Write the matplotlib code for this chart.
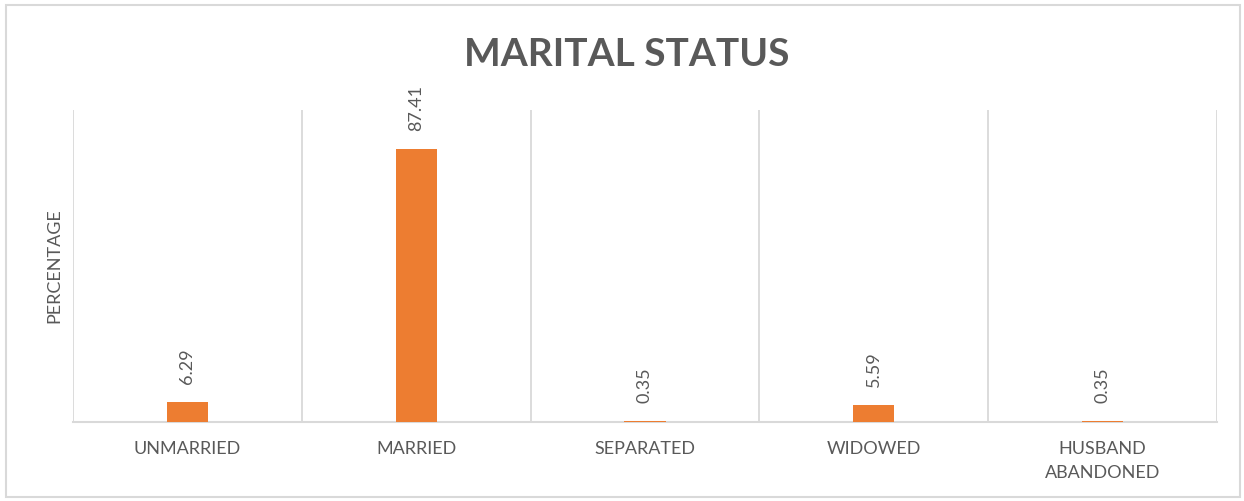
import matplotlib
matplotlib.use("Agg")
import matplotlib.pyplot as plt
from matplotlib.patches import Rectangle

categories = ["UNMARRIED", "MARRIED", "SEPARATED", "WIDOWED", "HUSBAND\nABANDONED"]
values = [6.29, 87.41, 0.35, 5.59, 0.35]
title = "MARITAL STATUS"
ylabel = "PERCENTAGE"

plt.rcParams['font.family'] = ['Lato', 'DejaVu Sans']

fig = plt.figure(figsize=(12.44, 5.01), dpi=100)
ax = fig.add_axes([73/1244, 1 - 422/501, (1217-73)/1244, (422-110)/501])

bar_color = "#ED7D31"
grid_color = "#D9D9D9"
text_color = "#595959"

x = list(range(len(categories)))
ax.bar(x, values, width=0.18, color=bar_color, zorder=3)
ax.set_xlim(-0.5, len(categories) - 0.5)
ax.set_ylim(0, 100)

for i in range(len(categories) + 1):
    ax.axvline(i - 0.5, color=grid_color, lw=1.3, zorder=1)

for s in ["top", "right", "left"]:
    ax.spines[s].set_visible(False)
ax.spines["bottom"].set_color(grid_color)
ax.spines["bottom"].set_linewidth(1.5)

ax.set_yticks([])
ax.set_xticks(x)
ax.set_xticklabels(categories, fontsize=13, color=text_color, linespacing=1.6)
ax.tick_params(axis="x", length=0, pad=14)

for xi, v in zip(x, values):
    ax.annotate(f"{v:.2f}", (xi, v), xytext=(0, 13), textcoords="offset points",
                rotation=90, ha="center", va="bottom", fontsize=13, color=text_color)

ax.set_ylabel(ylabel, fontsize=13, color=text_color, labelpad=8)

fig.text(627/1244, 1 - 55/501, title, ha="center", va="center", fontsize=28,
         fontweight="bold", color=text_color)

fig.patches.append(Rectangle((6/1244, 4/501), 1234/1244, 492/501, transform=fig.transFigure,
                             fill=False, edgecolor=grid_color, lw=1.5))

fig.savefig("out.png", dpi=100, facecolor="white")
